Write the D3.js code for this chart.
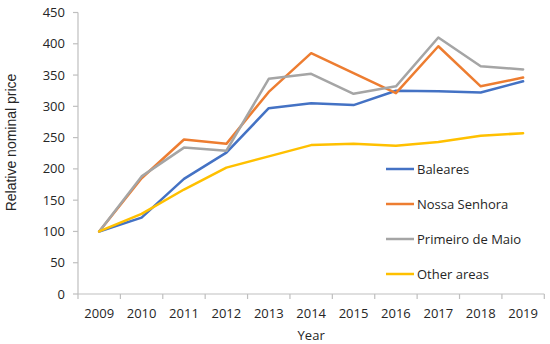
<!DOCTYPE html>
<html>
<head>
<meta charset="utf-8">
<script src="https://cdn.jsdelivr.net/npm/d3@7"></script>
<style>
  body { margin: 0; background: #fff; }
  text { font-family: "Open Sans", sans-serif; fill: #262626; }
</style>
</head>
<body>
<div id="chart"></div>
<script>
const years = ['2009', '2010', '2011', '2012', '2013', '2014', '2015', '2016', '2017', '2018', '2019'];
const yTicks = [0, 50, 100, 150, 200, 250, 300, 350, 400, 450];

const baleares = [100, 122, 184, 226, 297, 305, 302, 325, 324, 322, 340];
const nossaSenhora = [100, 185, 247, 240, 323, 385, 353, 321, 396, 332, 346];
const primeiroDeMaio = [100, 188, 234, 229, 344, 352, 320, 332, 410, 364, 359];
const otherAreas = [100, 128, 167, 202, 220, 238, 240, 237, 243, 253, 257];

const seriesNames = ['Baleares', 'Nossa Senhora', 'Primeiro de Maio', 'Other areas'];
const seriesColors = ['#4472C4', '#ED7D31', '#A5A5A5', '#FFC000'];
const series = [baleares, nossaSenhora, primeiroDeMaio, otherAreas];

const width = 550;
const height = 344;
const margin = { top: 12.5, right: 5.7, bottom: 50, left: 78 };

const svg = d3.select('#chart')
  .append('svg')
  .attr('width', width)
  .attr('height', height);

// Scales
const x = d3.scaleBand()
  .domain(years)
  .range([margin.left, width - margin.right]);

const y = d3.scaleLinear()
  .domain([0, 450])
  .range([height - margin.bottom, margin.top]);

// X axis
const xAxis = svg.append('g')
  .attr('transform', `translate(0,${height - margin.bottom})`);
xAxis.append('line')
  .attr('x1', margin.left).attr('x2', width - margin.right)
  .attr('stroke', '#bfbfbf').attr('stroke-width', 1.2);
xAxis.selectAll('.xtick')
  .data(years.concat(['end']))
  .enter()
  .append('line')
  .attr('x1', (d, i) => margin.left + i * x.step())
  .attr('x2', (d, i) => margin.left + i * x.step())
  .attr('y1', 0).attr('y2', 5)
  .attr('stroke', '#bfbfbf').attr('stroke-width', 1.2);
xAxis.selectAll('.xlabel')
  .data(years)
  .enter()
  .append('text')
  .attr('x', (d) => x(d) + x.bandwidth() / 2)
  .attr('y', 24)
  .attr('text-anchor', 'middle')
  .attr('font-size', '13px')
  .text((d) => d);

// Y axis
const yAxis = svg.append('g')
  .attr('transform', `translate(${margin.left},0)`);
yAxis.append('line')
  .attr('y1', y(0)).attr('y2', y(450))
  .attr('stroke', '#bfbfbf').attr('stroke-width', 1.2);
yAxis.selectAll('.ytick')
  .data(yTicks)
  .enter()
  .append('line')
  .attr('x1', -5).attr('x2', 0)
  .attr('y1', (d) => y(d)).attr('y2', (d) => y(d))
  .attr('stroke', '#bfbfbf').attr('stroke-width', 1.2);
yAxis.selectAll('.ylabel')
  .data(yTicks)
  .enter()
  .append('text')
  .attr('x', -13)
  .attr('y', (d) => y(d))
  .attr('dy', '0.35em')
  .attr('text-anchor', 'end')
  .attr('font-size', '13px')
  .text((d) => d);

// Axis titles
svg.append('text')
  .attr('x', (margin.left + width - margin.right) / 2)
  .attr('y', 339.5)
  .attr('text-anchor', 'middle')
  .attr('font-size', '13px')
  .text('Year');

svg.append('text')
  .attr('transform', 'translate(15.5,142.5) rotate(-90)')
  .attr('text-anchor', 'middle')
  .style('font-family', '"Liberation Sans", Arial, sans-serif')
  .attr('font-size', '14px')
  .text('Relative nominal price');

// Lines
const line = d3.line()
  .x((d, i) => x(years[i]) + x.bandwidth() / 2)
  .y((d) => y(d));

svg.selectAll('.series')
  .data(series)
  .enter()
  .append('path')
  .attr('class', 'series')
  .attr('d', line)
  .attr('fill', 'none')
  .attr('stroke', (_, i) => seriesColors[i])
  .attr('stroke-width', 2.5)
  .attr('stroke-linejoin', 'round')
  .attr('stroke-linecap', 'round');

// Legend
const legend = svg.selectAll('.legend')
  .data(seriesNames)
  .enter()
  .append('g')
  .attr('class', 'legend')
  .attr('transform', (_, i) => `translate(386,${169 + i * 35})`);
legend.append('line')
  .attr('x1', 0).attr('x2', 28)
  .attr('stroke', (_, i) => seriesColors[i])
  .attr('stroke-width', 2.5);
legend.append('text')
  .attr('x', 31)
  .attr('dy', '0.35em')
  .attr('font-size', '13px')
  .text((d) => d);
</script>
</body>
</html>
